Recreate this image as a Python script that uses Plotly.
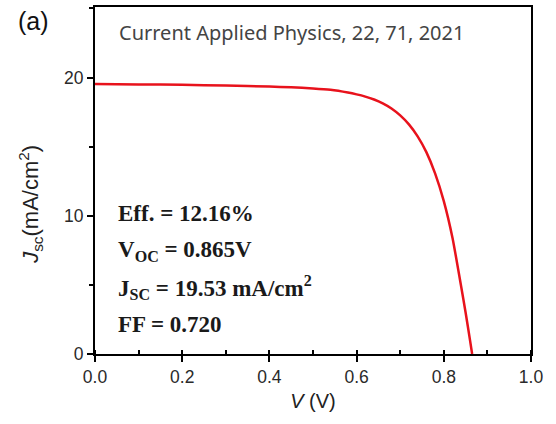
import plotly.graph_objects as go

# J-V curve of the solar cell
voltage = [0.0, 0.1, 0.2, 0.3, 0.4, 0.45, 0.5, 0.54, 0.58, 0.6, 0.62, 0.64, 0.66,
           0.68, 0.70, 0.72, 0.74, 0.76, 0.78, 0.80, 0.82, 0.84, 0.85, 0.86, 0.865]
current = [19.53, 19.50, 19.47, 19.42, 19.35, 19.29, 19.21, 19.11, 18.91, 18.78, 18.62,
           18.41, 18.13, 17.76, 17.26, 16.61, 15.74, 14.60, 13.07, 11.06, 8.39, 4.85,
           3.00, 1.02, 0.0]

x_ticks = [0.0, 0.2, 0.4, 0.6, 0.8, 1.0]
y_ticks = [0, 10, 20]

metrics = [
    "Eff. = 12.16%",
    "V<sub>OC</sub> = 0.865V",
    "J<sub>SC</sub> = 19.53 mA/cm<sup>2</sup>",
    "FF = 0.720",
]
citation = "Current Applied Physics, 22, 71, 2021"

W, H = 556, 424
L, R, T, B = 95, 25, 5, 70
plot_w = W - L - R
plot_h = H - T - B


def px_x(x):
    return (x - L) / plot_w


def px_y(y):
    return (H - B - y) / plot_h


fig = go.Figure()
fig.add_trace(go.Scatter(
    x=voltage, y=current, mode="lines",
    line=dict(color="#e8121c", width=2.5, shape="spline", smoothing=0.5),
    hoverinfo="skip", showlegend=False,
))

sans = "Liberation Sans, Arial, sans-serif"
axis_font = dict(family=sans, size=17.5, color="#2a2a2a")

fig.update_xaxes(
    range=[0, 1.0], tickvals=x_ticks, ticktext=[f"{v:.1f}" for v in x_ticks],
    ticks="outside", ticklen=6, tickwidth=2, tickcolor="black",
    minor=dict(dtick=0.1, ticks="inside", ticklen=4, tickwidth=2, tickcolor="black"),
    showline=True, linecolor="black", linewidth=2, mirror=True,
    showgrid=False, zeroline=False, tickfont=axis_font,
    title=dict(text="<i>V</i> (V)", font=dict(family=sans, size=20, color="#222222"),
               standoff=8),
)
fig.update_yaxes(
    range=[0, 25.1], tickvals=y_ticks,
    ticks="outside", ticklen=6, tickwidth=2, tickcolor="black",
    minor=dict(dtick=5, ticks="outside", ticklen=4, tickwidth=2, tickcolor="black"),
    showline=True, linecolor="black", linewidth=2, mirror=True,
    showgrid=False, zeroline=False, tickfont=axis_font,
)

annotations = [
    dict(text="(a)", xref="paper", yref="paper", x=px_x(16), y=px_y(19),
         xanchor="left", yanchor="middle", showarrow=False,
         font=dict(family=sans, size=25, color="#111111")),
    dict(text=citation, xref="paper", yref="paper", x=px_x(117), y=px_y(31),
         xanchor="left", yanchor="middle", showarrow=False,
         font=dict(family="Noto Sans, sans-serif", size=20, color="#444444")),
    dict(text="<i>J</i><sub>sc</sub>(mA/cm<sup>2</sup>)", xref="paper", yref="paper",
         x=px_x(31), y=px_y(204), xanchor="center", yanchor="middle", textangle=-90,
         showarrow=False, font=dict(family=sans, size=22, color="#222222")),
]
for i, txt in enumerate(metrics):
    annotations.append(dict(
        text=f"<b>{txt}</b>", xref="paper", yref="paper",
        x=px_x(116), y=px_y(213 + i * 37),
        xanchor="left", yanchor="middle", showarrow=False,
        font=dict(family="Liberation Serif, Times New Roman, serif", size=23, color="#1a1a1a"),
    ))

fig.update_layout(
    width=W, height=H,
    margin=dict(l=L, r=R, t=T, b=B),
    paper_bgcolor="white", plot_bgcolor="white",
    annotations=annotations,
)

fig.write_html("out.html")
